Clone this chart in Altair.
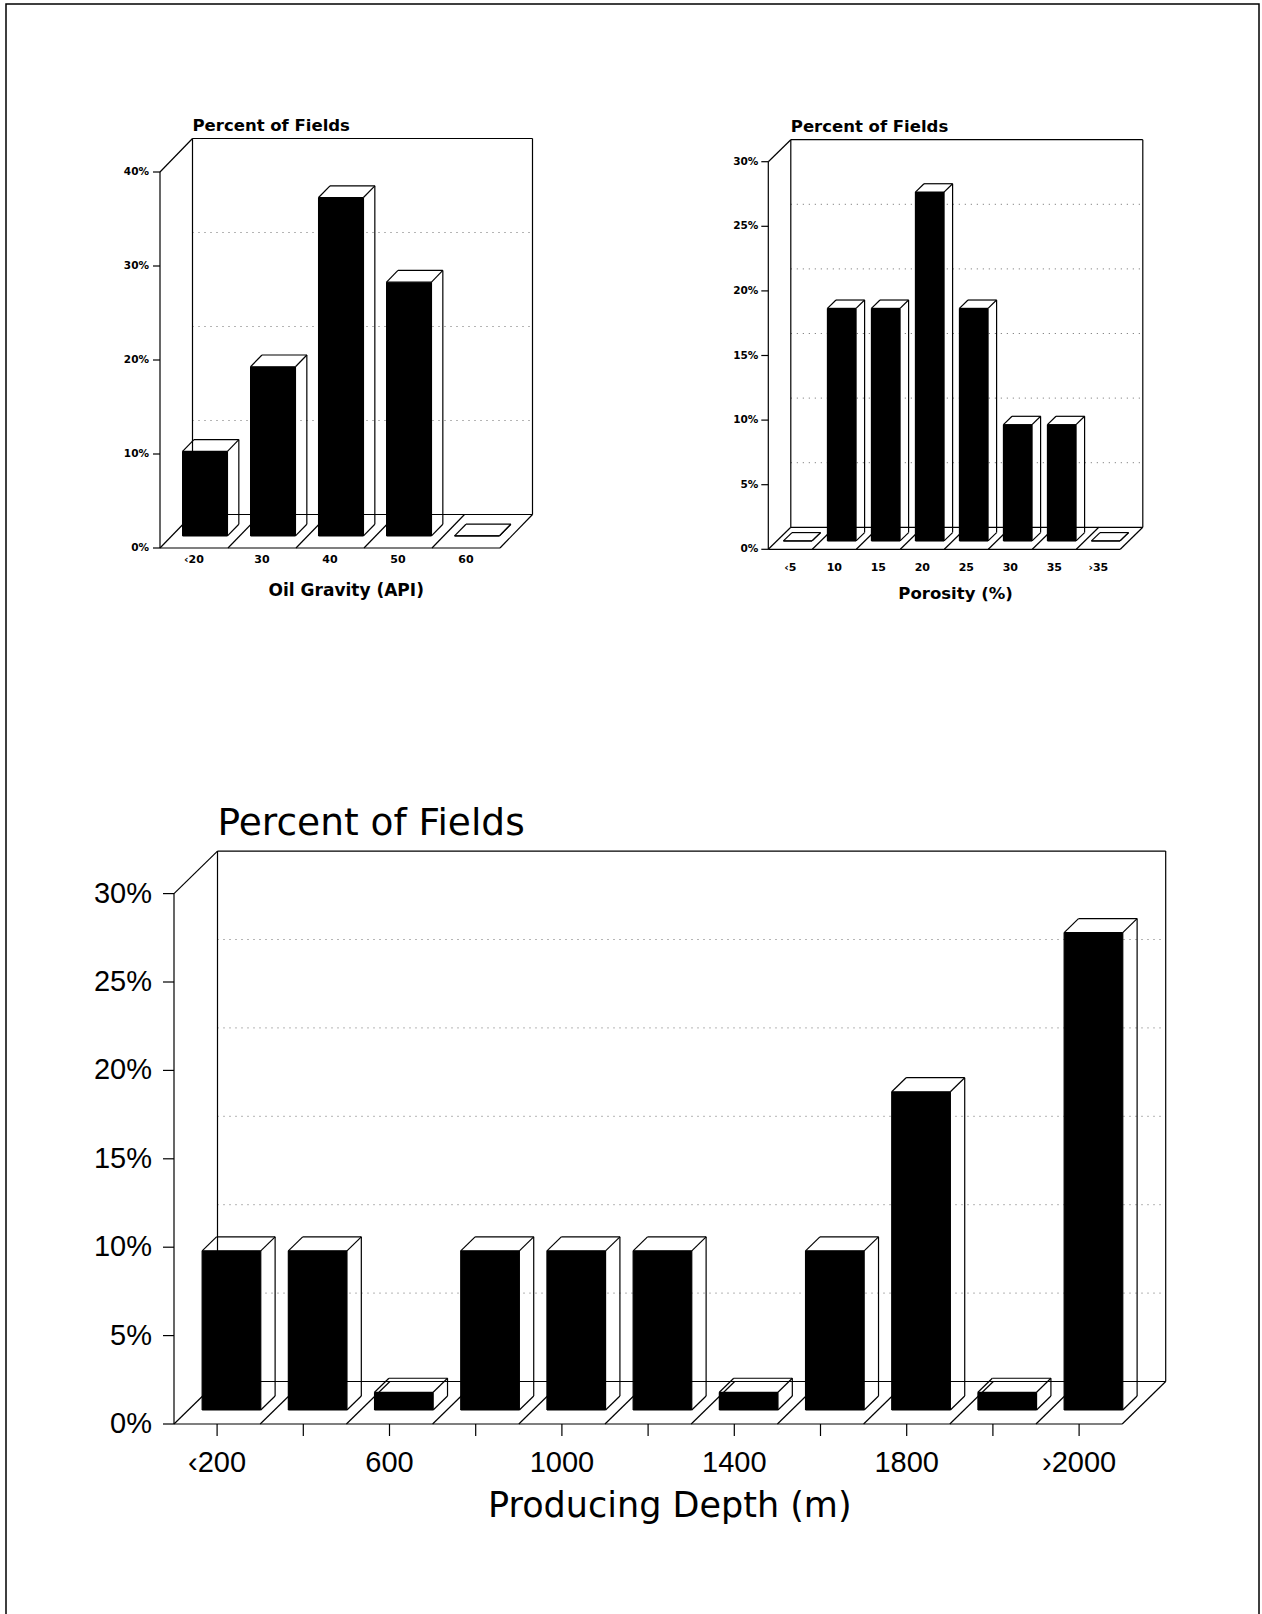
import altair as alt
import pandas as pd

# ---------------- data ----------------
gravity_cats = ["‹20", "30", "40", "50", "60"]
gravity_pct = [9.0, 18.0, 36.0, 27.0, 0.0]
gravity_ticks = [0, 10, 20, 30, 40]

porosity_cats = ["‹5", "10", "15", "20", "25", "30", "35", "›35"]
porosity_pct = [0.0, 18.0, 18.0, 27.0, 18.0, 9.0, 9.0, 0.0]
porosity_ticks = [0, 5, 10, 15, 20, 25, 30]

depth_cats = ["‹200", "400", "600", "800", "1000", "1200", "1400",
              "1600", "1800", "2000", "›2000"]
depth_pct = [9.0, 9.0, 1.0, 9.0, 9.0, 9.0, 1.0, 9.0, 18.0, 1.0, 27.0]
depth_labelled = ["‹200", "600", "1000", "1400", "1800", "›2000"]
depth_ticks = [0, 5, 10, 15, 20, 25, 30]

# ---------------- panel geometry / style ----------------
SMALL = dict(left=160, floor=548, cat_px=68, pct_px=9.4, dx_px=32.5, dy_px=33.5,
             a=0.16, b=0.82, f0=0.36, f1=0.71, ytick_px=7,
             font="DejaVu Sans", weight="bold",
             ylab_size=10.5, ylab_dx=-11, xlab_size=11, xlab_dy=15,
             title_size=16.5, title_dy=-8, xtitle_size=17, xtitle_dy=48,
             xtick_px=0)
POROS = dict(SMALL, left=768.3, floor=549.3, cat_px=44, pct_px=12.92, dx_px=22.5,
             dy_px=22, a=0.15, b=0.80, f0=0.38, f1=0.76, ylab_dx=-10,
             xlab_dy=22, title_dy=-8, xtitle_dy=50, xtitle_size=16.5)
DEPTH = dict(left=174, floor=1424, cat_px=86.2, pct_px=17.68, dx_px=43.5, dy_px=42.5,
             a=0.16, b=0.84, f0=0.33, f1=0.66, ytick_px=11,
             font="Liberation Sans", weight="normal",
             ylab_size=29, ylab_dx=-22, xlab_size=29, xlab_dy=48,
             title_size=37.5, title_dy=-16, xtitle_size=35, xtitle_dy=93,
             xtick_px=12)

LINE = dict(color="black", strokeWidth=1.2)


def panel(cats, vals, ticks, title, xtitle, g, shown=None, title_font="DejaVu Sans"):
    n = len(cats)
    dxc = g["dx_px"] / g["cat_px"]
    dyp = g["dy_px"] / g["pct_px"]
    ymax = ticks[-1]
    xmax = n + dxc
    ytop = ymax + dyp
    xs = alt.Scale(domain=[0, xmax], range=[g["left"], g["left"] + xmax * g["cat_px"]],
                   nice=False, zero=False)
    ys = alt.Scale(domain=[0, ytop], range=[g["floor"], g["floor"] - ytop * g["pct_px"]],
                   nice=False, zero=False)

    def X(f):
        return alt.X(f"{f}:Q", scale=xs, axis=None)

    def Y(f):
        return alt.Y(f"{f}:Q", scale=ys, axis=None)

    # frame: back wall, left wall, floor
    frame = []
    def seg(x, y, x2, y2):
        frame.append(dict(x=x, y=y, x2=x2, y2=y2))
    seg(dxc, dyp, xmax, dyp)
    seg(xmax, dyp, xmax, ytop)
    seg(xmax, ytop, dxc, ytop)
    seg(dxc, ytop, dxc, dyp)
    seg(0, 0, 0, ymax)
    seg(0, ymax, dxc, ytop)
    seg(0, 0, dxc, dyp)
    seg(0, 0, n, 0)
    seg(n, 0, xmax, dyp)
    for i in range(1, n):
        seg(i, 0, i + dxc, dyp)
    tl = g["ytick_px"] / g["cat_px"]
    for t in ticks:
        seg(0, t, -tl, t)
    if g["xtick_px"]:
        tk = g["xtick_px"] / g["pct_px"]
        for i in range(n):
            seg(i + 0.5, 0, i + 0.5, -tk)
    frame = pd.DataFrame(frame)

    grid = pd.DataFrame([dict(x=dxc, x2=xmax, y=t + dyp) for t in ticks[1:-1]])

    # bar geometry: front face, side face, top face
    fronts, polys, edges = [], [], []
    y0 = g["f0"] * dyp
    y1 = g["f1"] * dyp
    for i, (c, v) in enumerate(zip(cats, vals)):
        xl0 = i + g["a"] + g["f0"] * dxc
        xr0 = i + g["b"] + g["f0"] * dxc
        xl1 = i + g["a"] + g["f1"] * dxc
        xr1 = i + g["b"] + g["f1"] * dxc
        t0, t1 = y0 + v, y1 + v
        fronts.append(dict(x=xl0, x2=xr0, y=y0, y2=t0))
        side = [(xr0, y0, t0), (xr1, y1, t1)]
        top = [(xl0, t0, t0), (xl1, t0, t1), (xr0, t0, t1), (xr1, t1, t1)]
        for k, (px, lo, hi) in enumerate(side):
            polys.append(dict(pid=f"s{i}", k=k, x=px, lo=lo, hi=hi))
        for k, (px, lo, hi) in enumerate(top):
            polys.append(dict(pid=f"t{i}", k=k, x=px, lo=lo, hi=hi))
        for (ax, ay, bx, by) in [
            (xl0, y0, xr0, y0), (xl0, y0, xl0, t0), (xr0, y0, xr0, t0),
            (xl0, t0, xr0, t0), (xl0, t0, xl1, t1), (xl1, t1, xr1, t1),
            (xr0, t0, xr1, t1), (xr1, t1, xr1, y1), (xr0, y0, xr1, y1)]:
            edges.append(dict(x=ax, y=ay, x2=bx, y2=by))
    fronts = pd.DataFrame(fronts)
    polys = pd.DataFrame(polys)
    edges = pd.DataFrame(edges)

    ylabels = pd.DataFrame(dict(x=[0] * len(ticks), y=ticks,
                                label=[f"{t}%" for t in ticks]))
    shown = cats if shown is None else shown
    xlabels = pd.DataFrame([dict(x=i + 0.5, y=0, label=c)
                            for i, c in enumerate(cats) if c in shown])
    titles = pd.DataFrame([dict(x=dxc, y=ytop, label=title)])
    xtitles = pd.DataFrame([dict(x=xmax / 2, y=0, label=xtitle)])

    layers = [
        alt.Chart(grid).mark_rule(color="#6a6a6a", strokeWidth=1, strokeDash=[1, 5])
        .encode(x=X("x"), x2="x2", y=Y("y")),
        alt.Chart(frame).mark_rule(**LINE)
        .encode(x=X("x"), y=Y("y"), x2="x2", y2="y2"),
        alt.Chart(polys).mark_area(color="white", opacity=1)
        .encode(x=X("x"), y=Y("lo"), y2="hi", detail="pid:N", order="k:Q"),
        alt.Chart(fronts).mark_rect(color="black")
        .encode(x=X("x"), x2="x2", y=Y("y"), y2="y2"),
        alt.Chart(edges).mark_rule(**LINE)
        .encode(x=X("x"), y=Y("y"), x2="x2", y2="y2"),
        alt.Chart(ylabels).mark_text(align="right", baseline="middle", dx=g["ylab_dx"],
                                     font=g["font"], fontWeight=g["weight"],
                                     fontSize=g["ylab_size"], color="black")
        .encode(x=X("x"), y=Y("y"), text="label:N"),
        alt.Chart(xlabels).mark_text(align="center", baseline="alphabetic", dy=g["xlab_dy"],
                                     font=g["font"], fontWeight=g["weight"],
                                     fontSize=g["xlab_size"], color="black")
        .encode(x=X("x"), y=Y("y"), text="label:N"),
        alt.Chart(titles).mark_text(align="left", baseline="alphabetic", dy=g["title_dy"],
                                    font=title_font, fontWeight=g["weight"],
                                    fontSize=g["title_size"], color="black")
        .encode(x=X("x"), y=Y("y"), text="label:N"),
        alt.Chart(xtitles).mark_text(align="center", baseline="alphabetic", dy=g["xtitle_dy"],
                                     font=title_font, fontWeight=g["weight"],
                                     fontSize=g["xtitle_size"], color="black")
        .encode(x=X("x"), y=Y("y"), text="label:N"),
    ]
    return alt.layer(*layers)


gravity = panel(gravity_cats, gravity_pct, gravity_ticks,
                "Percent of Fields", "Oil Gravity (API)", SMALL)
porosity = panel(porosity_cats, porosity_pct, porosity_ticks,
                 "Percent of Fields", "Porosity (%)", POROS)
depth = panel(depth_cats, depth_pct, depth_ticks,
              "Percent of Fields", "Producing Depth (m)", DEPTH, shown=depth_labelled)

# page frame
border = alt.Chart(pd.DataFrame({"one": [1]})).mark_rect(
    fillOpacity=0, stroke="black", strokeWidth=1.5
).encode(x=alt.value(6), x2=alt.value(1259), y=alt.value(4), y2=alt.value(1700))

chart = (
    alt.layer(border, gravity, porosity, depth)
    .resolve_scale(x="independent", y="independent")
    .properties(width=1262, height=1614, padding=0,
                autosize=alt.AutoSizeParams(type="none"), background="white")
    .configure_view(stroke=None)
)

chart.save("out.html", embed_options={"renderer": "svg", "actions": False})
